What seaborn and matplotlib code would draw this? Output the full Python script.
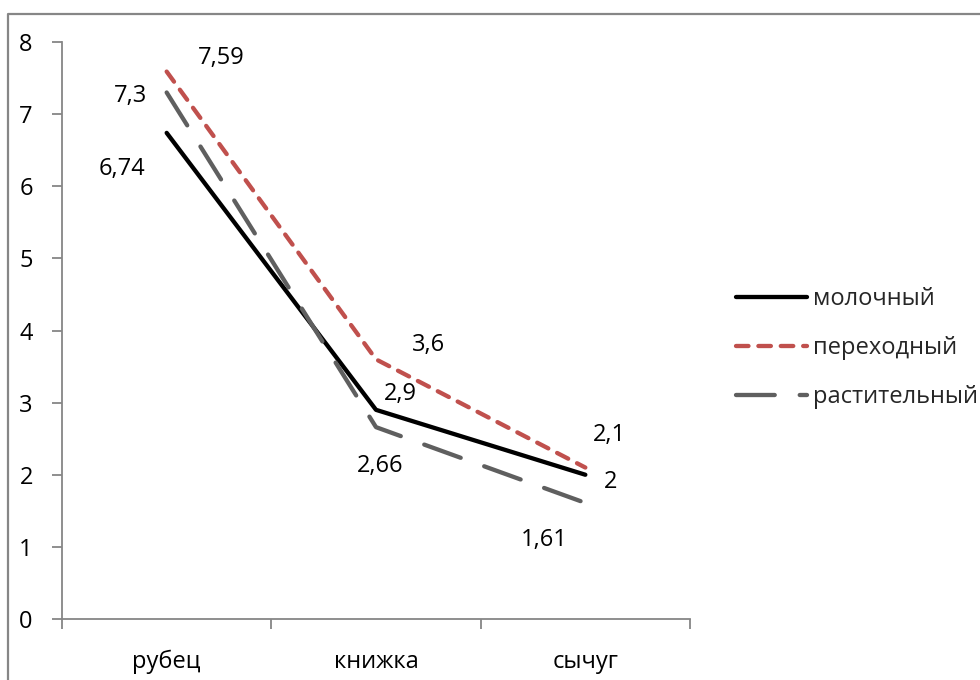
import matplotlib
matplotlib.use("Agg")
import matplotlib.pyplot as plt
import seaborn as sns
import pandas as pd
from matplotlib.lines import Line2D

categories = ["рубец", "книжка", "сычуг"]
series_names = ["молочный", "переходный", "растительный"]
molochny = [6.74, 2.9, 2.0]
perekhodny = [7.59, 3.6, 2.1]
rastitelny = [7.3, 2.66, 1.61]
yticks = [0, 1, 2, 3, 4, 5, 6, 7, 8]

sns.set_theme(style="white")
plt.rcParams["font.family"] = ["Open Sans", "DejaVu Sans"]

FS = 17
df = pd.DataFrame({
    "cat": categories * 3,
    "x": list(range(3)) * 3,
    "value": molochny + perekhodny + rastitelny,
    "series": [series_names[0]] * 3 + [series_names[1]] * 3 + [series_names[2]] * 3,
})

fig = plt.figure(figsize=(9.8, 6.8), dpi=100)
ax = fig.add_axes([62 / 980, 61 / 680, 628 / 980, 577 / 680])

colors = {"молочный": "#000000", "переходный": "#C0504D", "растительный": "#5F5F5F"}
sns.lineplot(data=df, x="x", y="value", hue="series", palette=colors, ax=ax,
             linewidth=3.1, legend=False, sort=False)

dash_styles = {
    "переходный": (2.9, 2.3),
    "растительный": (9.0, 5.8),
}
for line, name in zip(ax.get_lines(), series_names):
    line.set_solid_capstyle("round")
    line.set_dash_capstyle("round")
    if name in dash_styles:
        line.set_dashes(dash_styles[name])

ax.set_xlim(-0.5, 2.5)
ax.set_ylim(0, 8)
ax.set_yticks(yticks)
ax.set_yticklabels([str(v) for v in yticks], fontsize=FS, color="black")
ax.set_xticks([0, 1, 2])
ax.set_xticklabels(categories, fontsize=FS, color="black")
ax.set_xlabel("")
ax.set_ylabel("")

for s in ["top", "right"]:
    ax.spines[s].set_visible(False)
for s in ["left", "bottom"]:
    ax.spines[s].set_color("#868686")
    ax.spines[s].set_linewidth(1.3)

ax.tick_params(axis="y", which="major", left=True, length=7, width=1.3, color="#868686", pad=14)
ax.tick_params(axis="x", which="major", bottom=False, pad=16)
ax.set_xticks([-0.5, 0.5, 1.5, 2.5], minor=True)
ax.tick_params(axis="x", which="minor", bottom=True, length=7, width=1.3, color="#868686")

# data labels (offsets in pixels)
offsets = {
    "молочный": [(-45, -36), (24, 16), (25, -7)],
    "переходный": [(55, 14), (52, 14), (24, 33)],
    "растительный": [(-36, -4), (4, -39), (-41, -37)],
}
for name, vals in zip(series_names, [molochny, perekhodny, rastitelny]):
    for i, v in enumerate(vals):
        lab = f"{v:g}".replace(".", ",")
        ax.annotate(lab, (i, v), xytext=offsets[name][i], textcoords="offset pixels",
                    ha="center", va="center", fontsize=FS, color="black")

# legend
handles = []
for name in series_names:
    h = Line2D([0], [0], color=colors[name], linewidth=3.1, solid_capstyle="round",
               dash_capstyle="round")
    if name in dash_styles:
        h.set_dashes(dash_styles[name])
    handles.append(h)
fig.legend(handles, series_names, loc="center left", bbox_to_anchor=(727 / 980, 1 - 348 / 680),
           frameon=False, fontsize=FS, handlelength=3.0, handletextpad=0.25,
           labelspacing=1.05, borderaxespad=0)

# chart border (right and bottom fall outside the image)
bx = 7.5 / 980
by = 1 - 13.5 / 680
fig.add_artist(Line2D([bx, bx, 1.0], [0.0, by, by], transform=fig.transFigure,
                      color="#868686", linewidth=1.6, clip_on=False, zorder=10))

fig.savefig("out.png", dpi=100)
